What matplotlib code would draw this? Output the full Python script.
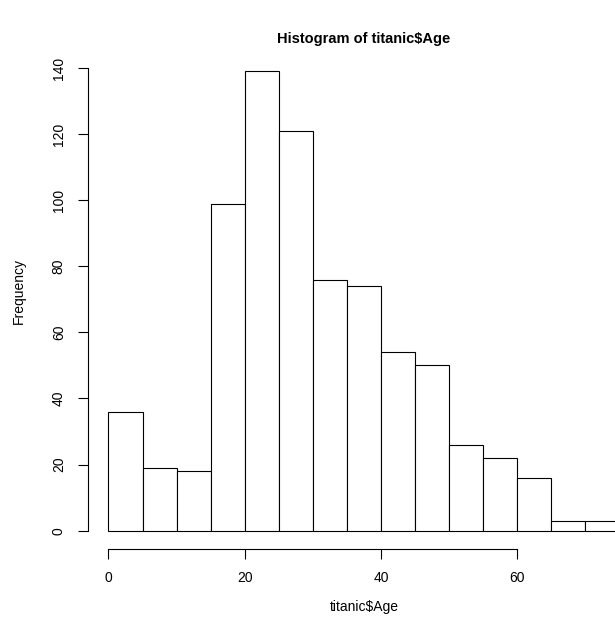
import numpy as np
import matplotlib
matplotlib.use("Agg")
import matplotlib.pyplot as plt

# --- data ----------------------------------------------------------------------
breaks = [0, 5, 10, 15, 20, 25, 30, 35, 40, 45, 50, 55, 60, 65, 70, 75]
counts = [36, 19, 18, 99, 139, 121, 76, 74, 54, 50, 26, 22, 16, 3, 3]
x_ticks = [0, 20, 40, 60]
y_ticks = [0, 20, 40, 60, 80, 100, 120, 140]

title = "Histogram of titanic\\$Age"
xlabel = "titanic\\$Age"
ylabel = "Frequency"

plt.rcParams["font.family"] = ["Liberation Sans", "DejaVu Sans"]

W, H = 615, 625
fig = plt.figure(figsize=(W / 100, H / 100), dpi=100)

# plot region in pixels (R style: usr range padded by 4%, runs off the right edge)
left_px, right_px = 88, 640
top_px, bottom_px = 53, 549
ax = fig.add_axes([left_px / W, 1 - bottom_px / H,
                   (right_px - left_px) / W, (bottom_px - top_px) / H])

edges = np.array(breaks, dtype=float)
ax.bar(edges[:-1], counts, width=np.diff(edges), align="edge",
       facecolor="white", edgecolor="black", linewidth=0.8)

xr = edges[-1] - edges[0]
ax.set_xlim(edges[0] - 0.04 * xr, edges[-1] + 0.04 * xr)
yr = max(counts)
ax.set_ylim(-0.04 * yr, yr * 1.04)

for side in ["top", "right"]:
    ax.spines[side].set_visible(False)
ax.spines["left"].set_bounds(y_ticks[0], y_ticks[-1])
ax.spines["bottom"].set_bounds(x_ticks[0], x_ticks[-1])
for side in ["left", "bottom"]:
    ax.spines[side].set_linewidth(0.8)

ax.set_xticks(x_ticks)
ax.set_yticks(y_ticks)
ax.tick_params(axis="both", direction="out", length=7, width=0.8,
               labelsize=10, pad=9)
for lbl in ax.get_yticklabels():
    lbl.set_rotation(90)
    lbl.set_va("center")

fig.text(364 / W, 1 - 39 / H, title, ha="center", va="center",
         fontsize=10.5, fontweight="bold")
fig.text(364 / W, 1 - 607 / H, xlabel, ha="center", va="center", fontsize=10)
fig.text(19 / W, 1 - 291 / H, ylabel, ha="center", va="center",
         rotation=90, fontsize=10)

fig.savefig("out.png", dpi=100)
